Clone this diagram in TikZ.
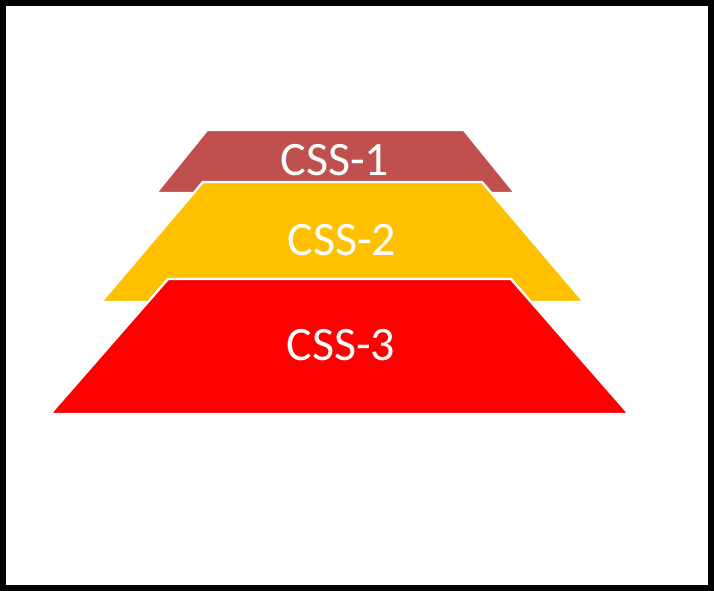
\documentclass[tikz,border=0pt]{standalone}
\usepackage{fontspec}
\setmainfont{Carlito}
\definecolor{cssone}{HTML}{C0504D}
\definecolor{csstwo}{HTML}{FFC000}
\definecolor{cssthree}{HTML}{FF0000}
\begin{document}
\begin{tikzpicture}[x=0.75pt,y=-0.75pt,
  layer/.style={draw=white,line width=1.8pt,line join=miter},
  lbl/.style={text=white,font=\fontsize{36}{42}\selectfont,inner sep=0pt,anchor=center}]
\useasboundingbox (0,0) rectangle (714,591);
\fill[white] (0,0) rectangle (714,591);
\draw[black,line width=4.5pt] (3,3) rectangle (711,588);
% layers
\filldraw[layer,fill=cssone] (207,130) -- (464,130) -- (515,193) -- (156,193) -- cycle;
\filldraw[layer,fill=csstwo] (203,182) -- (482,182) -- (584,302) -- (101,302) -- cycle;
\filldraw[layer,fill=cssthree] (168,279) -- (511,279) -- (629,414) -- (50,414) -- cycle;
\node[lbl] (t1) at (335,160) {CSS-1};
\node[lbl] (t2) at (342,240) {CSS-2};
\node[lbl] (t3) at (341,345) {CSS-3};
\end{tikzpicture}
\end{document}
